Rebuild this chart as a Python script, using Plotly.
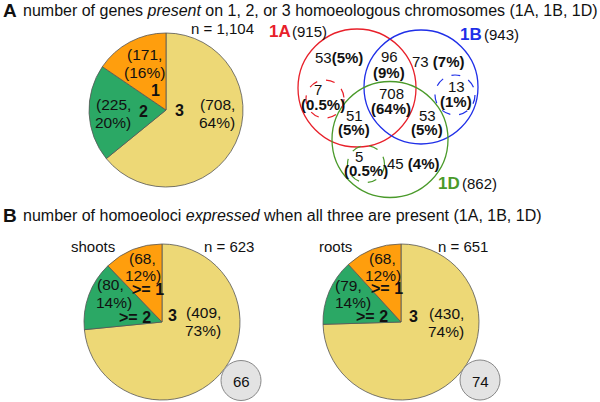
import plotly.graph_objects as go

W, H = 600, 402
FONT = 'Arial, Liberation Sans, sans-serif'

# panel A: genes present on 1, 2 or 3 homoeologues
present_labels = ['1', '2', '3']
present_counts = [171, 225, 708]
present_pct = ['16', '20', '64']
present_n = '1,104'

# panel B: homoeoloci expressed when all three are present
expr_labels = ['>= 1', '>= 2', '3']
shoots_counts = [68, 80, 409]
shoots_pct = ['12', '14', '73']
shoots_n = 623
shoots_none = 66
roots_counts = [68, 79, 430]
roots_pct = ['12', '14', '74']
roots_n = 651
roots_none = 74

# venn diagram
venn_sets = ['1A', '1B', '1D']
venn_totals = [915, 943, 862]
venn_counts = [53, 96, 73, 7, 708, 13, 51, 53, 5, 45]
venn_pct = ['5', '9', '7', '0.5', '64', '1', '5', '5', '0.5', '4']

slice_colors = ['#FF9E0D', '#2BA865', '#EDD876']
set_colors = ['#E8202A', '#1F2FE8', '#4A9A2A']


def domain(cx, cy, r):
    return dict(x=[(cx - r) / W, (cx + r) / W],
                y=[(H - cy - r) / H, (H - cy + r) / H])


def pie(values, cx, cy, r):
    # clockwise from 12 o'clock with reversed order puts slice 1 just left of top
    return go.Pie(values=values[::-1], domain=domain(cx, cy, r), sort=False,
                  direction='clockwise', textinfo='none',
                  hoverinfo='skip', showlegend=False,
                  marker=dict(colors=slice_colors[::-1],
                              line=dict(color='#555555', width=0.8)))


fig = go.Figure()
fig.add_trace(pie(present_counts, 166, 110, 77))
fig.add_trace(pie(shoots_counts, 162, 322, 78))
fig.add_trace(pie(roots_counts, 401, 322, 78))

annots = []


def txt(x, y, s, size=15, color='#111111', anchor='center'):
    annots.append(dict(x=x, y=y, text=s, showarrow=False, xanchor=anchor,
                       yanchor='middle', font=dict(size=size, color=color,
                                                   family=FONT)))


# titles
txt(1, 10, '<b>A</b>', size=19, anchor='left')
txt(21, 10, 'number of genes <i>present</i> on 1, 2, or 3 homoeologous '
    'chromosomes (1A, 1B, 1D)', size=16, anchor='left')
txt(1, 215, '<b>B</b>', size=19, anchor='left')
txt(21, 215, 'number of homoeoloci <i>expressed</i> when all three are '
    'present (1A, 1B, 1D)', size=16, anchor='left')

txt(222, 28, 'n = ' + present_n)
txt(93, 246, 'shoots')
txt(229, 246, 'n = %d' % shoots_n)
txt(335, 246, 'roots')
txt(463, 246, 'n = %d' % roots_n)


def pie_labels(counts, pct, cats, value_pos, cat_pos):
    for i in range(3):
        (x1, y1), (x2, y2) = value_pos[i]
        txt(x1, y1, '(%d,' % counts[i], size=15.5)
        txt(x2, y2, ('(' if i == 0 and cats[0] == '1' else '') + pct[i] + '%)',
            size=15.5)
        txt(cat_pos[i][0], cat_pos[i][1], '<b>%s</b>' % cats[i], size=16)


pie_labels(present_counts, present_pct, present_labels,
           [((144, 54), (144, 72)), ((113, 104), (113, 122)),
            ((217, 104), (217, 122))],
           [(155, 90), (143, 111), (179, 110)])
pie_labels(shoots_counts, shoots_pct, expr_labels,
           [((142, 258), (143, 275)), ((110, 284), (114, 302)),
            ((203, 312), (203, 330))],
           [(148, 289), (135, 317), (172, 315)])
pie_labels(roots_counts, roots_pct, expr_labels,
           [((382, 258), (383, 275)), ((348, 285), (353, 302)),
            ((446, 313), (446, 331))],
           [(387, 288), (372, 316), (413, 316)])

shapes = []


def circle(cx, cy, r, color, width=1.3, dash='solid', fill='rgba(0,0,0,0)'):
    shapes.append(dict(type='circle', xref='x', yref='y', x0=cx - r,
                       x1=cx + r, y0=cy - r, y1=cy + r, layer='above',
                       fillcolor=fill, line=dict(color=color, width=width,
                                                 dash=dash)))


# gray "none expressed" bubbles
circle(241, 380.5, 20, '#888888', width=1, fill='#E3E3E3')
txt(241, 381, str(shoots_none))
circle(480, 380, 20, '#888888', width=1, fill='#E3E3E3')
txt(480, 381, str(roots_none))

# venn
circle(357, 88, 59, set_colors[0])
circle(421, 87, 57, set_colors[1])
circle(390, 139.5, 58, set_colors[2])
circle(325, 99, 19, set_colors[0], width=1.2, dash='dash')
circle(455, 95, 20, set_colors[1], width=1.2, dash='dash')
circle(366, 164, 18.5, set_colors[2], width=1.2, dash='dash')

set_pos = [((280, 31), (309, 31)), ((471, 34), (501, 34)),
           ((449, 183), (479, 183))]
for i in range(3):
    (x1, y1), (x2, y2) = set_pos[i]
    txt(x1, y1, '<b>%s</b>' % venn_sets[i], size=17, color=set_colors[i])
    txt(x2, y2, '(%d)' % venn_totals[i], size=15)

inline = {0: ((339, 57), ''), 2: ((438, 61), ' '), 9: ((413, 163), ' ')}
stacked = {1: ((389, 56), (389, 72)), 3: ((318, 89), (323, 104)),
           4: ((391, 93), (391, 108)), 5: ((456, 86), (456, 101)),
           6: ((354, 115), (354, 129)), 7: ((427, 115), (427, 129)),
           8: ((359, 156), (366, 170))}
for i in range(len(venn_counts)):
    if i in inline:
        (x, y), sep = inline[i]
        txt(x, y, '%d%s<b>(%s%%)</b>' % (venn_counts[i], sep, venn_pct[i]))
    else:
        (x1, y1), (x2, y2) = stacked[i]
        txt(x1, y1, str(venn_counts[i]))
        txt(x2, y2, '<b>(%s%%)</b>' % venn_pct[i])

fig.update_layout(
    width=W, height=H, margin=dict(l=0, r=0, t=0, b=0),
    paper_bgcolor='white', plot_bgcolor='white',
    xaxis=dict(range=[0, W], visible=False, fixedrange=True),
    yaxis=dict(range=[H, 0], visible=False, fixedrange=True),
    shapes=shapes, annotations=annots, font=dict(family=FONT),
)

fig.write_html("out.html", config={'displayModeBar': False},
               post_script="document.body.style.margin='0';")
